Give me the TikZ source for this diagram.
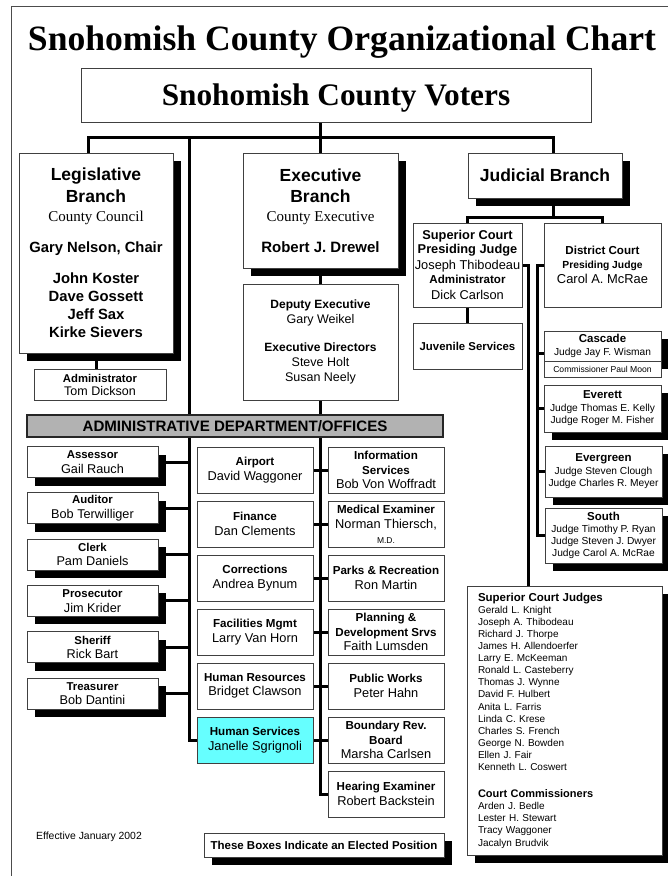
\documentclass[tikz,border=0pt]{standalone}
\usepackage{fontspec}
\setmainfont{Liberation Sans}
\newfontfamily\tms{Liberation Serif}
\usetikzlibrary{shadows,backgrounds}
\newcommand\fs[2]{\fontsize{#1}{#2}\selectfont}
\definecolor{hsblue}{RGB}{102,255,255}
\definecolor{bargray}{RGB}{178,178,178}
\begin{document}
\begin{tikzpicture}[x=1pt,y=-1pt,line join=miter,
	box/.style={draw=black!75,line width=.8pt,fill=white,inner sep=0pt,align=center},
	elected/.style={box,drop shadow={shadow xshift=8pt,shadow yshift=-8pt,opacity=1,fill=black}},
	dept/.style={box,minimum width=116,minimum height=46,font=\fs{12.8}{14.5}},
	conn/.style={line width=3pt}]
	\useasboundingbox (0,0) rectangle (668,876);
	\draw[black!70,line width=1pt] (11,876) -- (11,6) -- (668,6);
	\node[font=\tms\bfseries\fs{35.6}{40},anchor=base,inner sep=0pt] (title) at (342,50) {Snohomish County Organizational Chart};
	\node[box,minimum width=510,minimum height=54,text height=21pt,text depth=0pt,font=\tms\bfseries\fs{31.3}{36}] (voters) at (336,95) {Snohomish County Voters};
	\node[elected,minimum width=154,minimum height=200,font=\bfseries\fs{14.8}{18}] (leg) at (96,253)
		{{\fs{17.5}{18}Legislative}\\[4pt]{\fs{17.5}{18}Branch}\\[1pt]{\tms\mdseries\fs{15}{18}County Council}\\[13pt]Gary Nelson, Chair\\[13pt]John Koster\\Dave Gossett\\Jeff Sax\\Kirke Sievers};
	\node[elected,minimum width=155,minimum height=115,font=\bfseries\fs{15}{18}] (exec) at (320.5,210.5)
		{{\fs{17.5}{18}Executive}\\[3pt]{\fs{17.5}{18}Branch}\\[1pt]{\tms\mdseries\fs{15}{18}County Executive}\\[13pt]Robert J. Drewel};
	\node[elected,minimum width=154,minimum height=45,font=\bfseries\fs{17.5}{20}] (jud) at (545,175.5) {Judicial Branch};
	\node[box,minimum width=132,minimum height=31,font=\fs{12.5}{13}] (legadm) at (100,384.5) {{\bfseries\fs{11.3}{13}Administrator}\\Tom Dickson};
	\node[box,minimum width=155,minimum height=116,font=\fs{12.5}{15}] (dep) at (320.5,342)
		{{\bfseries\fs{12}{15}Deputy Executive}\\Gary Weikel\\[13pt]{\bfseries\fs{12}{15}Executive Directors}\\Steve Holt\\Susan Neely};
	\node[box,fill=bargray,draw=black!85,line width=1.2pt,minimum width=416,minimum height=22,font=\bfseries\fs{15.1}{18}] (bar) at (235,426) {ADMINISTRATIVE DEPARTMENT/OFFICES};
	\node[box,minimum width=109,minimum height=84,font=\fs{12.8}{14}] (sup) at (467.5,265)
		{{\bfseries Superior Court}\\{\bfseries Presiding Judge}\\[2pt]Joseph Thibodeau\\{\bfseries\fs{11.6}{14}Administrator}\\[2pt]Dick Carlson};
	\node[box,minimum width=117,minimum height=84,font=\fs{12.9}{14}] (dist) at (602.5,265)
		{{\bfseries\fs{11.6}{14}District Court}\\{\bfseries\fs{10.3}{14}Presiding Judge}\\[1pt]Carol A. McRae};
	\node[box,minimum width=109,minimum height=46,font=\bfseries\fs{11.4}{14}] (juv) at (467.5,346) {Juvenile Services};
	\node[elected,minimum width=117,minimum height=30,font=\fs{10.2}{13}] (casc) at (602.5,346) {{\bfseries\fs{11.5}{13}Cascade}\\Judge Jay F. Wisman};
	\node[box,minimum width=117,minimum height=16,font=\fs{8.6}{10}] (comm) at (602.5,369) {Commissioner Paul Moon};
	\node[elected,minimum width=117,minimum height=47,font=\fs{10.2}{12.5}] (ever) at (602.5,408.5)
		{{\bfseries\fs{11.5}{13}Everett}\\Judge Thomas E. Kelly\\Judge Roger M. Fisher};
	\node[elected,minimum width=117,minimum height=51,font=\fs{10.2}{12.5}] (everg) at (603.5,471.5)
		{{\bfseries\fs{11.5}{13}Evergreen}\\Judge Steven Clough\\Judge Charles R. Meyer};
	\node[elected,minimum width=117,minimum height=55,font=\fs{10.2}{12}] (south) at (603.5,535.5)
		{{\bfseries\fs{11.5}{13}South}\\Judge Timothy P. Ryan\\Judge Steven J. Dwyer\\Judge Carol A. McRae};
	\node[elected,minimum width=195,minimum height=269,text width=173,align=left,inner xsep=11pt,font=\fs{10}{12.1}] (judges) at (564.5,720.5)
		{{\bfseries\fs{11.5}{12.1}Superior Court Judges}\\Gerald L. Knight\\Joseph A. Thibodeau\\Richard J. Thorpe\\James H. Allendoerfer\\Larry E. McKeeman\\Ronald L. Casteberry\\Thomas J. Wynne\\David F. Hulbert\\Anita L. Farris\\Linda C. Krese\\Charles S. French\\George N. Bowden\\Ellen J. Fair\\Kenneth L. Coswert\\[15pt]{\bfseries\fs{11}{12.1}Court Commissioners}\\Arden J. Bedle\\Lester H. Stewart\\Tracy Waggoner\\Jacalyn Brudvik};
	\foreach \t/\n [count=\i] in {Assessor/Gail Rauch,Auditor/Bob Terwilliger,Clerk/Pam Daniels,Prosecutor/Jim Krider,Sheriff/Rick Bart,Treasurer/Bob Dantini}
	\node[elected,minimum width=131,minimum height=31,font=\fs{12.7}{14.5}] (l\i) at (92.5,{415.7+46.3*\i}) {{\bfseries\fs{11.4}{14.5}\t}\\\n};
	\foreach \t/\n [count=\i] in {Airport/David Waggoner,Finance/Dan Clements,Corrections/Andrea Bynum,Facilities Mgmt/Larry Van Horn,Human Resources/Bridget Clawson}
	\node[dept] (m\i) at (255,{416+54*\i}) {{\bfseries\fs{11.6}{14.5}\t}\\\n};
	\node[dept,fill=hsblue] (m6) at (255,740) {{\bfseries\fs{11.6}{14.5}Human Services}\\Janelle Sgrignoli};
	\node[dept] (r1) at (386,470) {{\bfseries\fs{11.6}{14.5}Information}\\{\bfseries\fs{11.6}{14.5}Services}\\Bob Von Woffradt};
	\node[dept] (r2) at (386,524) {{\bfseries\fs{11.6}{14.5}Medical Examiner}\\[1pt]Norman Thiersch,\\{\fs{8.5}{10}M.D.}};
	\node[dept] (r3) at (386,578) {{\bfseries\fs{11.6}{14.5}Parks \& Recreation}\\Ron Martin};
	\node[dept] (r4) at (386,632) {{\bfseries\fs{11.6}{14.5}Planning \&}\\{\bfseries\fs{11.6}{14.5}Development Srvs}\\Faith Lumsden};
	\node[dept] (r5) at (386,686) {{\bfseries\fs{11.6}{14.5}Public Works}\\Peter Hahn};
	\node[dept] (r6) at (386,740) {{\bfseries\fs{11.6}{14.5}Boundary Rev.}\\{\bfseries\fs{11.6}{14.5}Board}\\Marsha Carlsen};
	\node[dept] (r7) at (386,794) {{\bfseries\fs{11.6}{14.5}Hearing Examiner}\\Robert Backstein};
	\node[elected,minimum width=240,minimum height=24,font=\bfseries\fs{11.5}{14}] (legend) at (324,845) {These Boxes Indicate an Elected Position};
	\node[anchor=base west,font=\fs{10.4}{12},inner sep=0pt] (eff) at (36,839) {Effective January 2002};
	\begin{scope}[on background layer]
		\coordinate (busL) at (88,137);
		\coordinate (busR) at (553,137);
		\coordinate (trunk) at (189,137);
		\coordinate (jbus) at (553,217);
		\coordinate (sjx) at (528,265);
		\coordinate (djx) at (537,265);
		\draw[conn] (leg.north -| busL) -- (busL) -- (busR) -- (jud.north -| busR);
		\draw[conn] (voters.south -| exec.north) -- (exec.north);
		\draw[conn] (leg.south) -- (legadm.north -| leg.south);
		\draw[conn] (trunk) -- (trunk |- m6.west) -- (m6.west);
		\foreach \i in {1,...,6} \draw[conn] (l\i.east) -- (trunk |- l\i.east);
		\draw[conn] (exec.south) -- (dep.north);
		\draw[conn] (dep.south) -- (dep.south |- r7.west) -- (r7.west);
		\foreach \i in {1,...,6} \draw[conn] (m\i.east) -- (r\i.west);
		\draw[conn] (jud.south -| jbus) -- (jbus);
		\draw[conn] (sup.north) |- (jbus) -| (dist.north);
		\draw[conn] (sup.south) -- (juv.north);
		\draw[conn] (sup.east) -- (sjx) -- (sjx |- judges.north);
		\draw[conn] (dist.west) -- (djx) |- (south.west);
		\path ([yshift=-7pt]casc.west) coordinate (cw);
		\draw[conn] (cw) -- (djx |- cw);
		\foreach \n in {ever,everg} \draw[conn] (\n.west) -- (djx |- \n.west);
	\end{scope}
\end{tikzpicture}
\end{document}
